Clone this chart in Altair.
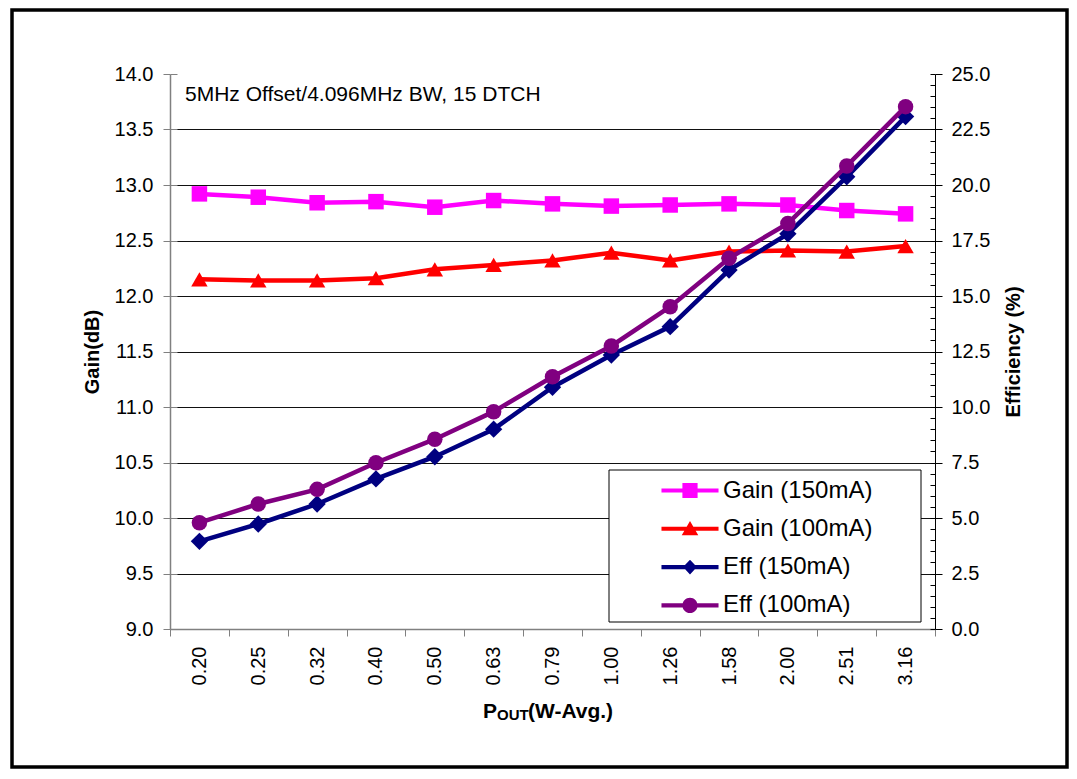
import altair as alt
import pandas as pd

# ---------------- data ----------------
pout_labels = ["0.20", "0.25", "0.32", "0.40", "0.50", "0.63", "0.79",
               "1.00", "1.26", "1.58", "2.00", "2.51", "3.16"]
gain_150 = [12.92, 12.89, 12.84, 12.85, 12.80, 12.86, 12.83, 12.81, 12.82, 12.83, 12.82, 12.77, 12.74]
gain_100 = [12.15, 12.14, 12.14, 12.16, 12.24, 12.28, 12.32, 12.39, 12.32, 12.40, 12.41, 12.40, 12.45]
eff_150 = [3.95, 4.73, 5.63, 6.76, 7.76, 9.00, 10.89, 12.34, 13.62, 16.17, 17.80, 20.37, 23.08]
eff_100 = [4.79, 5.63, 6.29, 7.49, 8.55, 9.79, 11.36, 12.75, 14.52, 16.70, 18.27, 20.86, 23.53]

series_names = ["Gain (150mA)", "Gain (100mA)", "Eff (150mA)", "Eff (100mA)"]
series_colors = ["#FF00FF", "#FF0000", "#000080", "#800080"]

gain_ticks = [9.0, 9.5, 10.0, 10.5, 11.0, 11.5, 12.0, 12.5, 13.0, 13.5, 14.0]
eff_ticks = [0.0, 2.5, 5.0, 7.5, 10.0, 12.5, 15.0, 17.5, 20.0, 22.5, 25.0]
eff_minor = [i * 0.5 for i in range(51)]

annotation = "5MHz Offset/4.096MHz BW, 15 DTCH"

df = pd.DataFrame({"pout": pout_labels, "g150": gain_150, "g100": gain_100,
                   "e150": eff_150, "e100": eff_100})
legend_df = pd.DataFrame({"series": series_names})

FONT = "Liberation Sans"
W, H = 765, 555

# legend symbol paths (line + marker), unit = sqrt(symbolSize)/2
LINE = "M-2.48,-0.18H2.48V0.18H-2.48Z "
legend_paths = [
    LINE + "M-0.66,-0.66H0.66V0.66H-0.66Z",
    LINE + "M0,-0.68L0.72,0.56L-0.72,0.56Z",
    LINE + "M0,-0.64L0.6,0L0,0.64L-0.6,0Z",
    LINE + "M-0.66,0A0.66,0.66 0 1,1 0.66,0A0.66,0.66 0 1,1 -0.66,0Z",
]

x_enc = alt.X("pout:N", sort=pout_labels,
              scale=alt.Scale(type="band", domain=pout_labels, paddingInner=0, paddingOuter=0),
              axis=alt.Axis(title=None, labelAngle=-90, tickBand="extent", labelFontSize=20,
                            labelFont=FONT, labelColor="black", tickSize=7, tickColor="#808080",
                            domainColor="#808080", domainWidth=1.5, labelPadding=10, grid=False))

gain_scale = alt.Scale(domain=[9, 14], nice=False, zero=False)
eff_scale = alt.Scale(domain=[0, 25], nice=False, zero=True)

gain_axis = alt.Axis(title="Gain(dB)", orient="left", values=gain_ticks, format=".1f",
                     labelFontSize=20, labelFont=FONT, labelColor="black",
                     titleFontSize=20, titleFont=FONT, titleFontWeight="bold", titleColor="black",
                     titlePadding=12, tickSize=7, tickColor="#808080", domainColor="#808080",
                     domainWidth=1.5, labelPadding=10, grid=True, gridWidth=1,
                     gridColor={"condition": {"test": "datum.value <= 9 || datum.value >= 14",
                                              "value": "transparent"}, "value": "#111111"})
eff_axis = alt.Axis(title="Efficiency (%)", orient="right", values=eff_ticks, format=".1f",
                    labelFontSize=20, labelFont=FONT, labelColor="black",
                    titleFontSize=20, titleFont=FONT, titleFontWeight="bold", titleColor="black",
                    titleAngle=270, titleBaseline="top", titlePadding=14,
                    tickSize=7, tickColor="black", domainColor="black", domainWidth=1,
                    labelPadding=9, grid=False)


def series_layer(field, color, shape, size, scale, axis):
    base = alt.Chart(df).encode(x=x_enc, y=alt.Y(f"{field}:Q", scale=scale, axis=axis))
    line = base.mark_line(color=color, strokeWidth=4.5)
    pts = base.mark_point(filled=True, shape=shape, size=size, color=color, opacity=1)
    return line + pts


gain_group = alt.layer(
    series_layer("g150", series_colors[0], "square", 240, gain_scale, gain_axis),
    series_layer("g100", series_colors[1], "triangle-up", 270, gain_scale, gain_axis),
)
eff_group = alt.layer(
    series_layer("e150", series_colors[2], "diamond", 300, eff_scale, eff_axis),
    series_layer("e100", series_colors[3], "circle", 240, eff_scale, eff_axis),
)

# inward ticks on left axis
gain_inner = alt.Chart(df).mark_point(opacity=0).encode(
    x=x_enc,
    y=alt.Y("g150:Q", scale=gain_scale,
            axis=alt.Axis(orient="right", offset=-W, values=gain_ticks, labels=False, title=None,
                          domain=False, grid=False, tickSize=7, tickColor="#808080")))
# inward minor ticks on right axis
eff_inner = alt.Chart(df).mark_point(opacity=0).encode(
    x=x_enc,
    y=alt.Y("e150:Q", scale=eff_scale,
            axis=alt.Axis(orient="left", offset=-W, values=eff_minor, labels=False, title=None,
                          domain=False, grid=False, tickSize=5, tickColor="black")))

leg = alt.Legend(title=None, orient="none", legendX=439, legendY=404.5,
                 labelFontSize=24, labelFont=FONT, labelColor="black",
                 symbolSize=529, symbolStrokeWidth=0, symbolOpacity=1,
                 symbolOffset=69, labelOffset=21, rowPadding=14.3, padding=0)
legend_layer = alt.Chart(legend_df).mark_point(filled=True, opacity=0).encode(
    color=alt.Color("series:N", scale=alt.Scale(domain=series_names, range=series_colors), legend=leg),
    shape=alt.Shape("series:N", scale=alt.Scale(domain=series_names, range=legend_paths), legend=leg),
)

one = alt.Data(values=[{}])
legend_box = alt.Chart(one).mark_rect(fill="white", stroke="black", strokeWidth=1).encode(
    x=alt.value(439), x2=alt.value(751), y=alt.value(396), y2=alt.value(548))
note = alt.Chart(one).mark_text(text=annotation, font=FONT, fontSize=21, align="left",
                                baseline="alphabetic", color="black").encode(
    x=alt.value(15), y=alt.value(27))
xt1 = alt.Chart(one).mark_text(text="P", font=FONT, fontSize=21, fontWeight="bold", align="left",
                               baseline="alphabetic", color="black").encode(
    x=alt.value(313), y=alt.value(644))
xt2 = alt.Chart(one).mark_text(text="OUT", font=FONT, fontSize=15, fontWeight="bold", align="left",
                               baseline="alphabetic", color="black").encode(
    x=alt.value(327), y=alt.value(646))
xt3 = alt.Chart(one).mark_text(text="(W-Avg.)", font=FONT, fontSize=21, fontWeight="bold",
                               align="left", baseline="alphabetic", color="black").encode(
    x=alt.value(358), y=alt.value(644))
frame = alt.Chart(one).mark_rect(filled=False, stroke="black", strokeWidth=3.5).encode(
    x=alt.value(-158), x2=alt.value(897), y=alt.value(-64), y2=alt.value(693))

chart = alt.layer(gain_group, eff_group, gain_inner, eff_inner, legend_box, legend_layer,
                  note, xt1, xt2, xt3, frame).resolve_scale(y="independent").properties(
    width=W, height=H,
    padding={"left": 162, "top": 66, "right": 134, "bottom": 140},
    autosize=alt.AutoSizeParams(type="none"),
    background="white",
).configure_view(stroke=None)

chart.save("out.html", embed_options={"renderer": "svg", "actions": False})
